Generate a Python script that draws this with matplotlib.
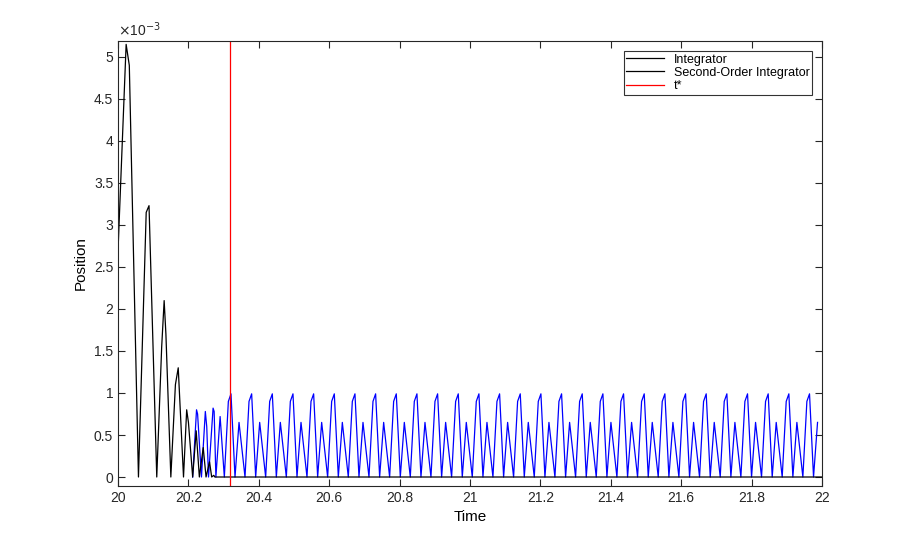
import matplotlib
matplotlib.use("Agg")
import matplotlib.pyplot as plt
from matplotlib.ticker import FuncFormatter
import numpy as np

plt.rcParams['font.family'] = ['Liberation Sans', 'DejaVu Sans']

# Integrator (black), values in units of 1e-3
black_t = [20.0, 20.023, 20.032, 20.058, 20.080, 20.088, 20.110, 20.124, 20.131, 20.136, 20.150,
           20.163, 20.171, 20.186, 20.195, 20.200, 20.212, 20.222, 20.231, 20.242, 20.250,
           20.260, 20.266, 20.272, 20.275, 22.0]
black_y = [2.7, 5.15, 4.9, 0.0, 3.15, 3.23, 0.0, 1.55, 2.1, 1.7, 0.0,
           1.1, 1.3, 0.0, 0.8, 0.65, 0.0, 0.55, 0.0, 0.35, 0.0,
           0.18, 0.0, 0.02, 0.0, 0.0]

# Second-order integrator (blue): start-up segment
blue_start_t = [20.212, 20.223, 20.226, 20.237, 20.248, 20.252, 20.257, 20.270, 20.273, 20.278, 20.290]
blue_start_y = [0.0, 0.80, 0.75, 0.0, 0.78, 0.60, 0.0, 0.82, 0.78, 0.0, 0.72]
# Repeating cycle read from the steady part
cycle_offsets = [0.0, 0.0114, 0.0189, 0.0303, 0.0417]
cycle_values = [0.0, 0.90, 0.99, 0.0, 0.65]
cycle_period = 0.0587
cycle_start = 20.302

t_star = 20.318

bt = list(blue_start_t)
by = list(blue_start_y)
k = 0
while True:
    base = cycle_start + k * cycle_period
    if base > 22.0:
        break
    for o, v in zip(cycle_offsets, cycle_values):
        bt.append(base + o)
        by.append(v)
    k += 1
bt = np.array(bt); by = np.array(by)

fig = plt.figure(figsize=(9.08, 5.46), dpi=100)
ax = fig.add_axes([0.13, 0.1099, 0.7753, 0.815])
ax.plot(bt, by * 1e-3, color='blue', lw=0.9)
l1, = ax.plot(black_t, np.array(black_y) * 1e-3, color='black', lw=0.9, label='Integrator')
l2, = ax.plot([], [], color='black', lw=0.9, label='Second-Order Integrator')
l3 = ax.axvline(t_star, color='red', lw=0.9, label='t*')

ax.set_xlim(20, 22)
ax.set_ylim(-0.107e-3, 5.19e-3)
ax.set_xticks(np.arange(20, 22.01, 0.2))
ax.xaxis.set_major_formatter(FuncFormatter(lambda v, p: f"{v:g}" if abs(v - round(v)) > 1e-9 else str(int(round(v)))))
ax.set_yticks(np.arange(0, 5.01, 0.5) * 1e-3)
ax.yaxis.set_major_formatter(FuncFormatter(lambda v, p: f"{v*1e3:g}"))
ax.tick_params(direction='in', top=True, right=True, labelsize=10, length=5, colors='#262626')
for s in ax.spines.values():
    s.set_color('#262626'); s.set_linewidth(0.8)
ax.text(0.0, 1.005, r'$\times$10$^{-3}$', transform=ax.transAxes, fontsize=10, ha='left', va='bottom', color='#262626')
ax.set_xlabel('Time', fontsize=11)
ax.set_ylabel('Position', fontsize=11)
leg = ax.legend(handles=[l1, l2, l3], loc='upper right', fontsize=9, frameon=True, fancybox=False,
                edgecolor='black', borderaxespad=0.8, handlelength=3, borderpad=0.2, labelspacing=0.1)
leg.get_frame().set_linewidth(0.8)
fig.savefig('out.png', dpi=100)
